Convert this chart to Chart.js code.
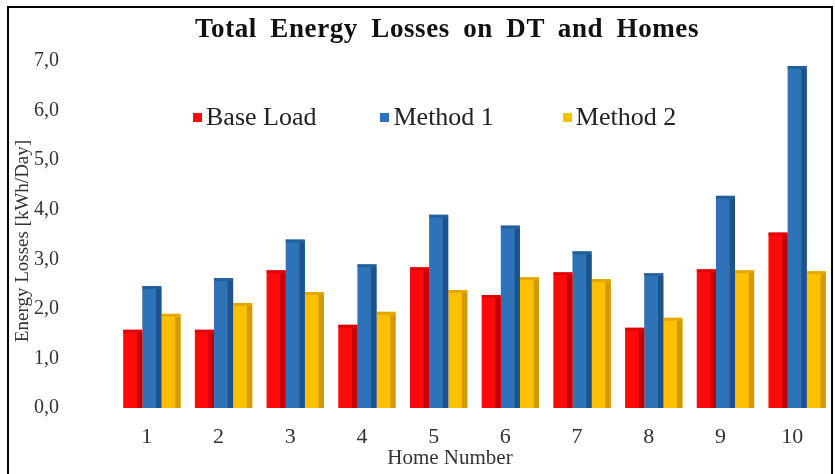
<!DOCTYPE html>
<html>
<head>
<meta charset="utf-8">
<script src="https://cdn.jsdelivr.net/npm/chart.js@4.4.1/dist/chart.umd.min.js"></script>
<style>
  html, body { margin: 0; padding: 0; background: #fff; }
  #wrap { position: relative; width: 835px; height: 474px; overflow: hidden; font-family: "Liberation Serif", "Times New Roman", serif; }
  #frame { position: absolute; left: 7px; top: 6px; width: 826px; height: 480px; border: 2px solid #000; box-sizing: border-box; pointer-events: none; }
  #title { position: absolute; top: 13px; left: 0; width: 894px; text-align: center; font-weight: bold; font-size: 27px; color: #111; word-spacing: 6px; letter-spacing: 0.6px; }
  #legend { position: absolute; top: 102px; left: 193px; display: flex; font-size: 26px; color: #222; }
  #legend .item { display: flex; align-items: center; }
  #legend .box { width: 9px; height: 9px; margin-right: 4px; }
  #xtitle { position: absolute; top: 445px; left: 250px; width: 400px; text-align: center; font-size: 21px; color: #333; line-height: 24px; }
  #ytitle { position: absolute; top: 229px; left: -178px; width: 400px; text-align: center; font-size: 19px; color: #333; line-height: 24px; transform: rotate(-90deg); }
</style>
</head>
<body>
<div id="wrap">
  <canvas id="chart" width="835" height="474"></canvas>
  <div id="title">Total Energy Losses on DT and Homes</div>
  <div id="legend"></div>
  <div id="xtitle">Home Number</div>
  <div id="ytitle">Energy Losses [kWh/Day]</div>
  <div id="frame"></div>
</div>
<script>
const homes = ["1", "2", "3", "4", "5", "6", "7", "8", "9", "10"];
const baseLoad = [1.58, 1.58, 2.78, 1.68, 2.84, 2.28, 2.74, 1.62, 2.80, 3.54];
const method1 = [2.46, 2.62, 3.40, 2.90, 3.90, 3.68, 3.16, 2.72, 4.28, 6.90];
const method2 = [1.90, 2.12, 2.34, 1.94, 2.38, 2.64, 2.60, 1.82, 2.78, 2.76];
const seriesNames = ["Base Load", "Method 1", "Method 2"];
const seriesColors = ["#ff0a0a", "#2e73b8", "#ffc000"];
const sideColors = ["#c40000", "#1d528a", "#d09a00"];
const legendGaps = [64, 69, 0];

const serif = '"Liberation Serif", "Times New Roman", serif';

// html legend, sits inside the plot like the original
const legendDiv = document.getElementById('legend');
seriesNames.forEach((name, i) => {
    const item = document.createElement('div');
    item.className = 'item';
    item.style.marginRight = legendGaps[i] + 'px';
    item.innerHTML = `<span class="box" style="background:${seriesColors[i]}"></span><span>${name}</span>`;
    legendDiv.append(item);
});

// darker right side + top edge to fake the 3d look
const shade3d = {
    id: 'shade3d',
    afterDatasetsDraw(chart) {
        const ctx = chart.ctx;
        chart.data.datasets.forEach((ds, di) => {
            const meta = chart.getDatasetMeta(di);
            meta.data.forEach(bar => {
                const w = bar.width;
                const left = bar.x - w / 2;
                const h = bar.base - bar.y;
                ctx.save();
                ctx.fillStyle = sideColors[di];
                ctx.fillRect(left + w * 0.72, bar.y + 3, w * 0.28, h - 3);
                ctx.globalAlpha = 0.6;
                ctx.fillRect(left, bar.y, w, 3);
                ctx.restore();
            });
        });
    }
};

const data = [baseLoad, method1, method2];

new Chart(document.getElementById('chart'), {
    type: 'bar',
    data: {
        labels: homes,
        datasets: seriesNames.map((name, i) => ({
            label: name,
            data: data[i],
            backgroundColor: seriesColors[i],
            borderWidth: 0
        }))
    },
    options: {
        responsive: false,
        animation: false,
        layout: { padding: { left: 10, right: 2, top: 57, bottom: 0 } },
        datasets: { bar: { categoryPercentage: 0.8, barPercentage: 1.0 } },
        plugins: {
            legend: { display: false },
            tooltip: { enabled: false },
            title: { display: false }
        },
        scales: {
            x: {
                grid: { display: false },
                border: { display: false },
                afterFit: scale => { scale.height = 66; },
                ticks: { color: '#333', font: { family: serif, size: 22 }, padding: 8, labelOffset: -5 }
            },
            y: {
                min: 0,
                max: 7,
                grid: { display: false },
                border: { display: false },
                afterFit: scale => { scale.width = 106; },
                ticks: {
                    stepSize: 1,
                    color: '#333',
                    font: { family: serif, size: 20 },
                    padding: 49,
                    callback: v => v.toFixed(1).replace('.', ',')
                }
            }
        }
    },
    plugins: [shade3d]
});
</script>
</body>
</html>
